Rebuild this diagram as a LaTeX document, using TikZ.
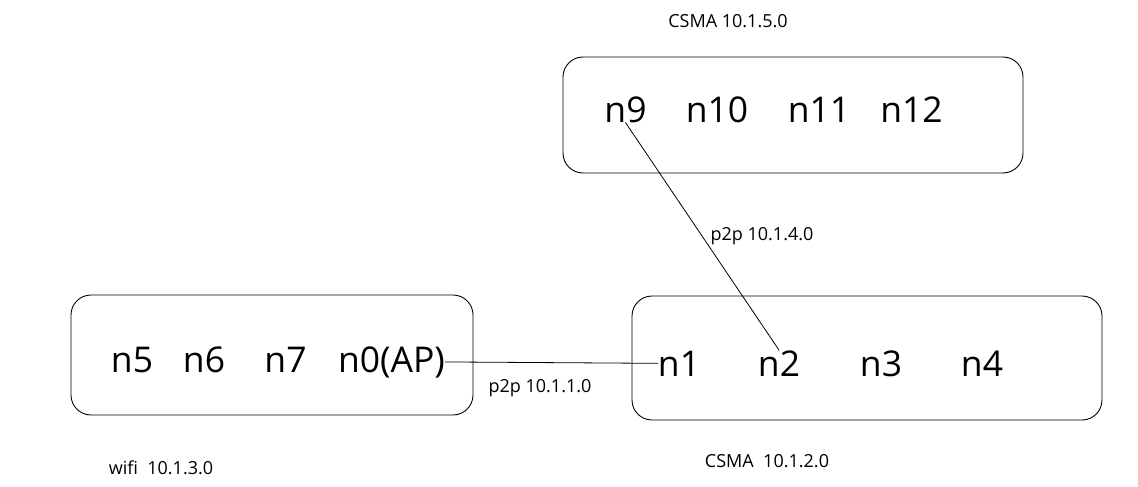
\documentclass[tikz,border=0pt]{standalone}
\usepackage{fontspec}
\setmainfont{Open Sans}
\begin{document}
\begin{tikzpicture}[x=1pt,y=-1pt,
    netbox/.style={draw, rounded corners=20pt, line width=0.9pt, inner sep=0pt},
    host/.style={inner sep=0pt, anchor=base, font=\fontsize{35.5}{40}\selectfont},
    netlabel/.style={inner sep=0pt, font=\fontsize{18}{21}\selectfont}]
        \useasboundingbox (0,0) rectangle (1138,487);

        % networks
        \node[netbox, minimum width=460pt, minimum height=116pt] (csmaT) at (793,115) {};
        \node[netbox, minimum width=402pt, minimum height=120pt] (wifi)  at (272,355) {};
        \node[netbox, minimum width=470pt, minimum height=124pt] (csmaB) at (867,358) {};

        % hosts
        \node[host] (n9)  at (625.5,122) {n9};
        \node[host] (n10) at (717,122)   {n10};
        \node[host] (n11) at (819,122)   {n11};
        \node[host] (n12) at (911.5,122) {n12};

        \node[host] (n5)  at (132,372)   {n5};
        \node[host] (n6)  at (204,372)   {n6};
        \node[host] (n7)  at (285.5,372) {n7};
        \node[host] (n0)  at (391.5,372) {n0(AP)};

        \node[host] (n1)  at (679,376)   {n1};
        \node[host] (n2)  at (779,376)   {n2};
        \node[host] (n3)  at (881,376)   {n3};
        \node[host] (n4)  at (982,376)   {n4};

        % labels
        \node[netlabel] (lcsmaT) at (728,21)  {CSMA 10.1.5.0};
        \node[netlabel] (lp2pA)  at (762,236) {p2p 10.1.4.0};
        \node[netlabel] (lp2pB)  at (540,388) {p2p 10.1.1.0};
        \node[netlabel] (lwifi)  at (161,468) {wifi\ \ 10.1.3.0};
        \node[netlabel] (lcsmaB) at (767,461) {CSMA\ \ 10.1.2.0};

        \draw[line width=0.8pt] (n0.east) -- (n1.west);
        \draw[line width=0.8pt] (n9.south) -- (n2.north);
\end{tikzpicture}
\end{document}
